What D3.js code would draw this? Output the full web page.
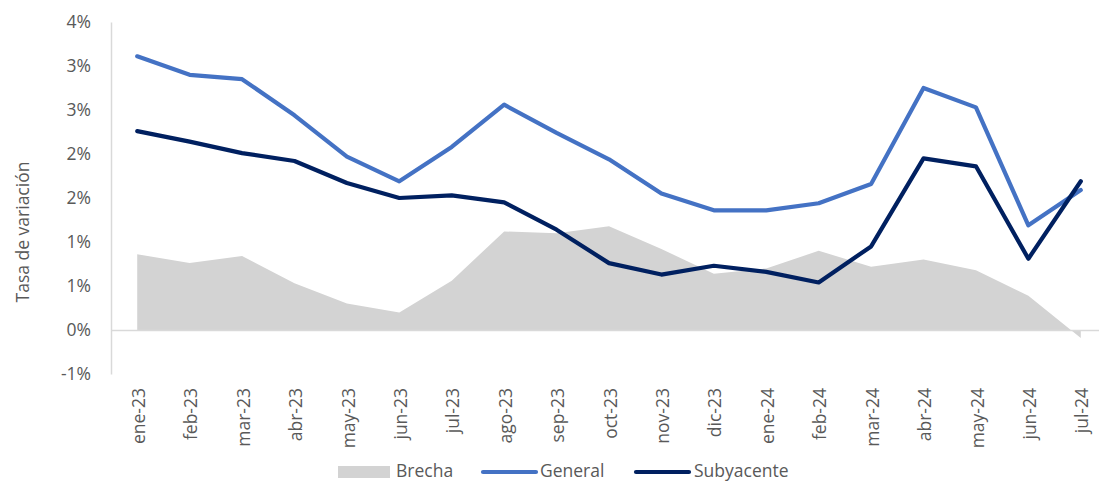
<!DOCTYPE html>
<html lang="es">
<head>
  <meta charset="UTF-8">
  <title>Tasa de variación: General, Subyacente y Brecha</title>
  <script src="https://d3js.org/d3.v7.min.js"></script>
  <style>
    body {
      margin: 0;
      background: #fff;
      font-family: "Open Sans", "Noto Sans", Arial, sans-serif;
    }
    text {
      fill: #595959;
    }
  </style>
</head>
<body>
  <div id="chart"></div>

  <script>
    // Data (in percent)
    const months = ["ene-23", "feb-23", "mar-23", "abr-23", "may-23", "jun-23", "jul-23",
      "ago-23", "sep-23", "oct-23", "nov-23", "dic-23", "ene-24", "feb-24", "mar-24",
      "abr-24", "may-24", "jun-24", "jul-24"];
    const general = [3.11, 2.90, 2.85, 2.44, 1.97, 1.69, 2.08, 2.56, 2.24, 1.94, 1.55,
      1.36, 1.36, 1.44, 1.66, 2.75, 2.53, 1.19, 1.59];
    const subyacente = [2.26, 2.14, 2.01, 1.92, 1.67, 1.50, 1.53, 1.45, 1.14, 0.76, 0.63,
      0.73, 0.66, 0.54, 0.95, 1.95, 1.86, 0.81, 1.69];
    const brecha = [0.86, 0.76, 0.84, 0.53, 0.30, 0.20, 0.56, 1.12, 1.10, 1.18, 0.92,
      0.64, 0.70, 0.90, 0.72, 0.80, 0.68, 0.39, -0.09];
    const yTicks = [-0.5, 0, 0.5, 1, 1.5, 2, 2.5, 3, 3.5];
    const yTickLabels = ["-1%", "0%", "1%", "1%", "2%", "2%", "3%", "3%", "4%"];

    const width = 1099, height = 481;
    const margin = { left: 111, right: 1107, top: 22, bottom: 374 };
    const fontSize = "17.5px";

    const svg = d3.select("#chart")
      .append("svg")
      .attr("width", width)
      .attr("height", height);

    const x = d3.scalePoint().domain(months).range([margin.left, margin.right]).padding(0.5);
    const y = d3.scaleLinear().domain([-0.5, 3.5]).range([margin.bottom, margin.top]);

    // Brecha area
    const area = d3.area()
      .x((d, i) => x(months[i]))
      .y0(y(0))
      .y1(d => y(d));

    svg.append("path")
      .datum(brecha)
      .attr("fill", "#d3d3d3")
      .attr("d", area);

    // Y axis
    const yAxis = svg.append("g")
      .attr("transform", `translate(${margin.left},0)`)
      .call(d3.axisLeft(y).tickValues(yTicks).tickSize(0).tickPadding(20)
        .tickFormat((d, i) => yTickLabels[i]));
    yAxis.select(".domain").attr("stroke", "#d9d9d9").attr("stroke-width", 1.5);
    yAxis.selectAll("text")
      .style("font-size", fontSize)
      .style("font-family", "'Open Sans', sans-serif")
      .attr("fill", "#595959");

    // Zero line with category labels
    const xAxis = svg.append("g")
      .attr("transform", `translate(0,${y(0)})`)
      .call(d3.axisBottom(x).tickSize(0).tickSizeOuter(0));
    xAxis.select(".domain").attr("stroke", "#d9d9d9").attr("stroke-width", 1.5);
    xAxis.selectAll("text")
      .attr("transform", "rotate(-90)")
      .attr("x", -(388 - y(0)))
      .attr("y", 1)
      .attr("dy", "0.35em")
      .style("text-anchor", "end")
      .style("font-size", fontSize)
      .style("font-family", "'Open Sans', sans-serif")
      .attr("fill", "#595959");

    // Lines
    const line = d3.line()
      .x((d, i) => x(months[i]))
      .y(d => y(d));

    svg.append("path")
      .datum(general)
      .attr("fill", "none")
      .attr("stroke", "#4472c4")
      .attr("stroke-width", 4.2)
      .attr("stroke-linejoin", "round")
      .attr("stroke-linecap", "round")
      .attr("d", line);

    svg.append("path")
      .datum(subyacente)
      .attr("fill", "none")
      .attr("stroke", "#002060")
      .attr("stroke-width", 4.2)
      .attr("stroke-linejoin", "round")
      .attr("stroke-linecap", "round")
      .attr("d", line);

    // Y axis title
    svg.append("text")
      .attr("transform", "rotate(-90)")
      .attr("x", -232)
      .attr("y", 23)
      .attr("dy", "0.35em")
      .style("text-anchor", "middle")
      .style("font-size", fontSize)
      .text("Tasa de variación");

    // Legend
    const legend = svg.append("g").style("font-size", fontSize);

    legend.append("rect")
      .attr("x", 338).attr("y", 466)
      .attr("width", 52).attr("height", 12)
      .attr("fill", "#d3d3d3");
    legend.append("text").attr("x", 396).attr("y", 476.5).text("Brecha");

    legend.append("line")
      .attr("x1", 483).attr("x2", 536).attr("y1", 472).attr("y2", 472)
      .attr("stroke", "#4472c4").attr("stroke-width", 4.2).attr("stroke-linecap", "round");
    legend.append("text").attr("x", 540).attr("y", 476.5).text("General");

    legend.append("line")
      .attr("x1", 636).attr("x2", 689).attr("y1", 472).attr("y2", 472)
      .attr("stroke", "#002060").attr("stroke-width", 4.2).attr("stroke-linecap", "round");
    legend.append("text").attr("x", 694).attr("y", 476.5).text("Subyacente");
  </script>
</body>
</html>
